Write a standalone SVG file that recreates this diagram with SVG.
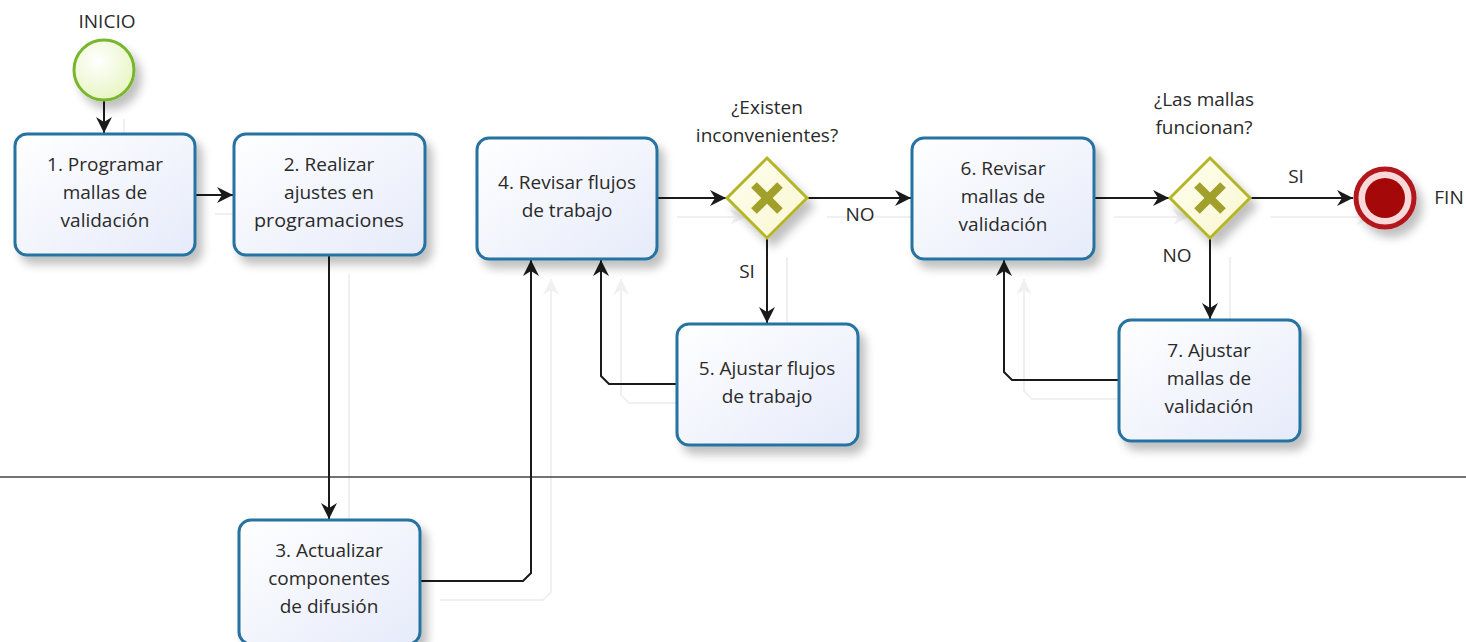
<svg xmlns="http://www.w3.org/2000/svg" xmlns:xlink="http://www.w3.org/1999/xlink" width="1466" height="642" viewBox="0 0 1466 642">
<defs>
<style>
.task{fill:url(#taskGrad);stroke:#2672a0;stroke-width:3;filter:url(#shadow)}
.txt{font-family:"Open Sans","Noto Sans","DejaVu Sans",sans-serif;font-size:19px;fill:#2a2a2a;text-anchor:middle}
.conn{fill:none;stroke:#1a1a1a;stroke-width:2}
.arr{marker-end:url(#ah)}
.gw{fill:url(#gwGrad);stroke:#b5b52c;stroke-width:3;filter:url(#shadow)}
.gwx{stroke:#a0a02a;stroke-width:8;stroke-linecap:butt}
</style>
<linearGradient id="taskGrad" x1="0" y1="0" x2="1" y2="1">
<stop offset="0" stop-color="#ffffff"/>
<stop offset="1" stop-color="#e6ebfa"/>
</linearGradient>
<linearGradient id="gwGrad" x1="0" y1="0" x2="1" y2="1">
<stop offset="0" stop-color="#fffff0"/>
<stop offset="1" stop-color="#f8f6d0"/>
</linearGradient>
<radialGradient id="startGrad" cx="0.4" cy="0.35" r="0.7">
<stop offset="0" stop-color="#ffffff"/>
<stop offset="1" stop-color="#e6f5c0"/>
</radialGradient>
<filter id="shadow" x="-20%" y="-20%" width="150%" height="150%">
<feGaussianBlur in="SourceAlpha" stdDeviation="5"/>
<feOffset dx="6" dy="8" result="b"/>
<feComponentTransfer><feFuncA type="linear" slope="0.25"/></feComponentTransfer>
<feMerge><feMergeNode/><feMergeNode in="SourceGraphic"/></feMerge>
</filter>
<marker id="ah" markerUnits="userSpaceOnUse" markerWidth="18" markerHeight="18" refX="16" refY="8" orient="auto">
<path d="M0,0 L16,8 L0,16 L5,8 z" fill="#1a1a1a"/>
</marker>
</defs>
<rect width="1466" height="642" fill="#ffffff"/>

<line x1="0" y1="477" x2="1466" y2="477" stroke="#444" stroke-width="1.5"/>

<g id="connectors">
<use xlink:href="#connlines" transform="translate(20,19)" opacity="0.06"/>
<g id="connlines">
<path class="conn arr" d="M104,100 L104,133"/>
<path class="conn arr" d="M195,195 L233,195"/>
<path class="conn arr" d="M329,255 L329,519"/>
<path class="conn arr" d="M420,581 L523,581 L531,573 L531,260"/>
<path class="conn arr" d="M657,198 L726,198"/>
<path class="conn arr" d="M807,198 L911,198"/>
<path class="conn arr" d="M767,238 L767,323"/>
<path class="conn arr" d="M677,384 L609,384 L601,376 L601,260"/>
<path class="conn arr" d="M1094,198 L1169,198"/>
<path class="conn arr" d="M1250,198 L1353,198"/>
<path class="conn arr" d="M1210,238 L1210,319"/>
<path class="conn arr" d="M1119,380 L1012,380 L1004,372 L1004,260"/>
</g>
<text class="txt" x="860" y="221">NO</text>
<text class="txt" x="747" y="278">SI</text>
<text class="txt" x="1296" y="183">SI</text>
<text class="txt" x="1177" y="262">NO</text>
</g>

<g id="start">
<text class="txt" x="107" y="28">INICIO</text>
<circle cx="104" cy="70" r="30" fill="url(#startGrad)" stroke="#7ab52e" stroke-width="3" filter="url(#shadow)"/>
</g>

<g id="task1">
<rect class="task" x="15" y="134" width="180" height="121" rx="12"/>
<text class="txt" x="105" y="171">1. Programar</text>
<text class="txt" x="105" y="199">mallas de</text>
<text class="txt" x="105" y="227">validación</text>
</g>

<g id="task2">
<rect class="task" x="234" y="134" width="191" height="121" rx="12"/>
<text class="txt" x="329" y="171">2. Realizar</text>
<text class="txt" x="329" y="199">ajustes en</text>
<text class="txt" x="329" y="227" textLength="150" lengthAdjust="spacingAndGlyphs">programaciones</text>
</g>

<g id="task3">
<rect class="task" x="239" y="520" width="181" height="124" rx="12"/>
<text class="txt" x="329" y="557">3. Actualizar</text>
<text class="txt" x="329" y="585">componentes</text>
<text class="txt" x="329" y="613">de difusión</text>
</g>

<g id="task4">
<rect class="task" x="477" y="138" width="180" height="121" rx="12"/>
<text class="txt" x="567" y="189">4. Revisar flujos</text>
<text class="txt" x="567" y="217">de trabajo</text>
</g>

<g id="gateway1">
<text class="txt" x="767" y="114">¿Existen</text>
<text class="txt" x="767" y="142">inconvenientes?</text>
<polygon class="gw" points="767,158 807,198 767,238 727,198"/>
<line class="gwx" x1="754" y1="185" x2="780" y2="211"/>
<line class="gwx" x1="780" y1="185" x2="754" y2="211"/>
</g>

<g id="task5">
<rect class="task" x="677" y="324" width="181" height="121" rx="12"/>
<text class="txt" x="767" y="375">5. Ajustar flujos</text>
<text class="txt" x="767" y="403">de trabajo</text>
</g>

<g id="task6">
<rect class="task" x="912" y="138" width="182" height="121" rx="12"/>
<text class="txt" x="1003" y="175">6. Revisar</text>
<text class="txt" x="1003" y="203">mallas de</text>
<text class="txt" x="1003" y="231">validación</text>
</g>

<g id="gateway2">
<text class="txt" x="1204" y="106">¿Las mallas</text>
<text class="txt" x="1204" y="134">funcionan?</text>
<polygon class="gw" points="1210,158 1250,198 1210,238 1170,198"/>
<line class="gwx" x1="1197" y1="185" x2="1223" y2="211"/>
<line class="gwx" x1="1223" y1="185" x2="1197" y2="211"/>
</g>

<g id="task7">
<rect class="task" x="1119" y="320" width="181" height="121" rx="12"/>
<text class="txt" x="1209" y="357">7. Ajustar</text>
<text class="txt" x="1209" y="385">mallas de</text>
<text class="txt" x="1209" y="413">validación</text>
</g>

<g id="end">
<circle cx="1385" cy="198" r="29" fill="#f9d9d9" stroke="#b3181b" stroke-width="5" filter="url(#shadow)"/>
<circle cx="1385" cy="198" r="20" fill="#a50808"/>
<text class="txt" x="1449" y="204">FIN</text>
</g>
</svg>
